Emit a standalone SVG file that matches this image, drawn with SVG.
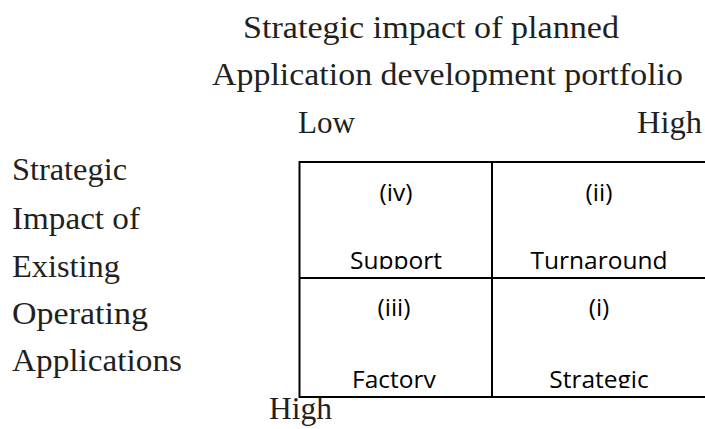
<svg xmlns="http://www.w3.org/2000/svg" width="705" height="429" viewBox="0 0 705 429">
  <style>
    .serif { font-family: "Liberation Serif", "Times New Roman", serif; font-size: 31px; fill: #231f20; }
    .cell { font-family: "Open Sans", "Noto Sans", "Liberation Sans", sans-serif; font-size: 24.5px; fill: #000; text-anchor: middle; }
    .grid { stroke: #000; stroke-width: 2; fill: none; }
  </style>
  <defs>
    <clipPath id="clipTop"><rect x="299" y="162" width="410" height="107"/></clipPath>
    <clipPath id="clipBottom"><rect x="299" y="278" width="410" height="110"/></clipPath>
  </defs>
  <rect width="705" height="429" fill="#fff"/>

  <g id="axis-title">
    <text class="serif" x="243" y="37.5" textLength="376" lengthAdjust="spacingAndGlyphs">Strategic impact of planned</text>
    <text class="serif" x="212" y="85" textLength="471" lengthAdjust="spacingAndGlyphs">Application development portfolio</text>
  </g>
  <g id="axis-x-labels">
    <text class="serif" x="298" y="132.5" textLength="57" lengthAdjust="spacingAndGlyphs">Low</text>
    <text class="serif" x="637" y="132.5" textLength="65" lengthAdjust="spacingAndGlyphs">High</text>
  </g>
  <g id="axis-y-title">
    <text class="serif" x="12" y="180" textLength="115" lengthAdjust="spacingAndGlyphs">Strategic</text>
    <text class="serif" x="12" y="228.5" textLength="128" lengthAdjust="spacingAndGlyphs">Impact of</text>
    <text class="serif" x="12" y="277" textLength="108" lengthAdjust="spacingAndGlyphs">Existing</text>
    <text class="serif" x="12" y="324" textLength="136" lengthAdjust="spacingAndGlyphs">Operating</text>
    <text class="serif" x="12" y="371" textLength="170" lengthAdjust="spacingAndGlyphs">Applications</text>
  </g>
  <g id="axis-y-label">
    <text class="serif" x="269" y="419" textLength="63" lengthAdjust="spacingAndGlyphs">High</text>
  </g>

  <g id="connectors">
    <path class="grid" d="M706 162 H299.5 V397 H706"/>
    <line class="grid" x1="492" y1="162" x2="492" y2="397"/>
    <line class="grid" x1="299.5" y1="278" x2="706" y2="278"/>
  </g>

  <g id="cell-support" clip-path="url(#clipTop)">
    <text class="cell" x="396" y="201">(iv)</text>
    <text class="cell" x="396" y="269">Support</text>
  </g>
  <g id="cell-turnaround" clip-path="url(#clipTop)">
    <text class="cell" x="599" y="201">(ii)</text>
    <text class="cell" x="599" y="269">Turnaround</text>
  </g>
  <g id="cell-factory" clip-path="url(#clipBottom)">
    <text class="cell" x="394" y="316">(iii)</text>
    <text class="cell" x="394" y="388">Factory</text>
  </g>
  <g id="cell-strategic" clip-path="url(#clipBottom)">
    <text class="cell" x="599" y="316">(i)</text>
    <text class="cell" x="599" y="388">Strategic</text>
  </g>
</svg>
